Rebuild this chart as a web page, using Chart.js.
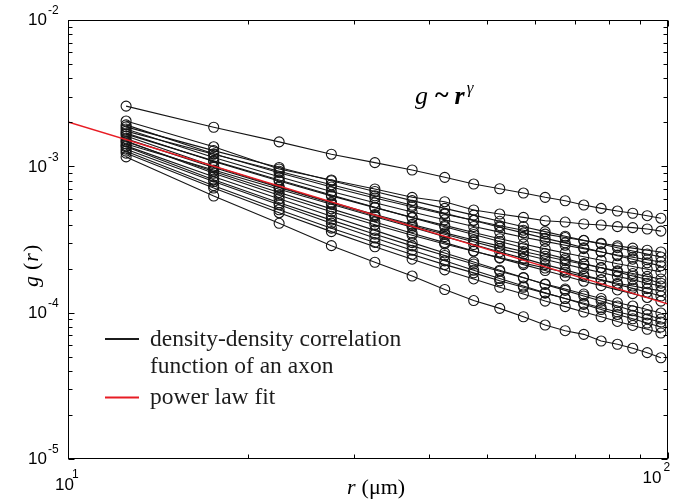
<!DOCTYPE html>
<html>
<head>
<meta charset="utf-8">
<script src="https://cdn.jsdelivr.net/npm/chart.js@4.4.1/dist/chart.umd.min.js"></script>
<style>
  body { margin: 0; background: #fff; }
  #myChart { display: block; }
</style>
</head>
<body>
<canvas id="myChart" width="682" height="502"></canvas>
<script>
// radial distance r (um), same bins for every axon
var r = [12.5, 17.5, 22.5, 27.5, 32.5, 37.5, 42.5, 47.5, 52.5, 57.5, 62.5, 67.5, 72.5, 77.5, 82.5, 87.5, 92.5, 97.5];

// g(r) for each axon, in units of 1e-3
var gA = [2.58, 1.85, 1.47, 1.21, 1.06, .944, .841, .757, .703, .657, .614, .582, .544, .516, .495, .478, .460, .442];
var gB = [2.04, 1.36, .959, .806, .700, .614, .573, .503, .472, .448, .425, .416, .404, .397, .387, .381, .373, .361];
var gC = [1.92, 1.22, .905, .722, .608, .529, .471, .428, .393, .366, .344, .326, .311, .298, .286, .276, .267, .260];
var gD = [1.86, 1.28, .982, .797, .673, .583, .516, .464, .421, .387, .358, .333, .312, .295, .278, .264, .252, .240];
var gE = [1.80, 1.15, .848, .673, .564, .487, .431, .388, .355, .328, .307, .289, .274, .260, .248, .239, .230, .222];
var gF = [1.74, 1.21, .926, .749, .629, .542, .477, .426, .384, .351, .322, .300, .278, .261, .245, .232, .219, .209];
var gG = [1.69, 1.08, .793, .628, .522, .448, .395, .353, .320, .295, .273, .256, .241, .228, .216, .207, .198, .190];
var gH = [1.61, 1.00, .725, .568, .469, .401, .351, .314, .285, .262, .243, .227, .214, .203, .193, .185, .177, .170];
var gI = [1.66, 1.09, .807, .637, .525, .445, .387, .342, .306, .278, .254, .234, .217, .203, .190, .178, .169, .159];
var gJ = [1.54, .982, .716, .562, .462, .393, .343, .305, .274, .251, .231, .214, .200, .188, .177, .168, .159, .152];
var gK = [1.49, .896, .634, .489, .399, .338, .295, .263, .238, .218, .202, .189, .177, .168, .159, .152, .146, .141];
var gL = [1.42, .944, .698, .551, .453, .383, .331, .292, .260, .235, .213, .196, .181, .168, .156, .147, .138, .130];
var gM = [1.47, .923, .663, .512, .417, .349, .301, .264, .236, .213, .194, .178, .164, .153, .143, .135, .127, .120];
var gN = [1.36, .810, .564, .429, .344, .286, .246, .215, .192, .173, .157, .145, .134, .125, .117, .111, .105, .0994];
var gO = [1.38, .850, .600, .456, .365, .301, .256, .222, .195, .174, .156, .142, .130, .120, .111, .103, .0965, .0905];
var gP = [1.27, .738, .505, .378, .302, .250, .213, .187, .165, .149, .136, .125, .116, .108, .101, .0959, .0908, .0863];
var gQ = [1.31, .787, .546, .409, .324, .267, .226, .195, .171, .152, .137, .125, .114, .105, .0972, .0908, .0850, .0798];
var gR = [1.23, .711, .482, .358, .282, .232, .196, .170, .149, .134, .120, .110, .101, .0937, .0871, .0818, .0770, .0726];
var gZ = [1.16, .627, .408, .287, .221, .178, .144, .121, .107, .0938, .0823, .0753, .0711, .0640, .0608, .0571, .0533, .0492];

// power law fit, units of 1e-3
var fitR = [10, 100];
var fitG = [2.01, 0.115];

var UNIT = 1e-3;
var xDecades = [1, 2];          // 10^1 .. 10^2
var yDecades = [-5, -4, -3, -2]; // 10^-5 .. 10^-2

var axons = [gA, gB, gC, gD, gE, gF, gG, gH, gI, gJ, gK, gL, gM, gN, gO, gP, gQ, gR, gZ];

function toPoints(xs, ys) {
  return xs.map(function(x, i) { return { x: x, y: ys[i] * UNIT }; });
}

var datasets = [{
  label: 'power law fit',
  data: toPoints(fitR, fitG),
  borderColor: 'rgb(232,28,36)',
  borderWidth: 1.3,
  pointRadius: 0,
  order: 0
}];
axons.forEach(function(g) {
  datasets.push({
    label: 'axon',
    data: toPoints(r, g),
    borderColor: '#151515',
    borderWidth: 1.1,
    pointRadius: 5,
    pointBorderWidth: 1.1,
    pointBackgroundColor: 'rgba(0,0,0,0)',
    pointBorderColor: '#151515',
    order: 1
  });
});

function powLabel(ctx, exp, x, y, ex, ey) {
  ctx.font = '17px "Liberation Sans", Arial, sans-serif';
  ctx.textAlign = 'left';
  ctx.textBaseline = 'middle';
  ctx.fillText('10', x, y);
  ctx.font = '12px "Liberation Sans", Arial, sans-serif';
  ctx.fillText(String(exp), ex, ey);
}

var SERIF = '"Liberation Serif", "Times New Roman", serif';

var frame = {
  id: 'frame',
  afterDraw: function(chart) {
    var ctx = chart.ctx, a = chart.chartArea;
    var xs = chart.scales.x, ys = chart.scales.y;
    ctx.save();
    ctx.strokeStyle = '#000';
    ctx.fillStyle = '#000';
    ctx.lineWidth = 1;
    var L = Math.round(a.left) + 0.5, R = Math.round(a.right) - 0.5;
    var T = Math.round(a.top) + 0.5, B = Math.round(a.bottom) - 0.5;
    ctx.strokeRect(L, T, R - L, B - T);

    ctx.beginPath();
    // y ticks, inward on left and right
    for (var i = 0; i < yDecades.length; i++) {
      var d = yDecades[i];
      for (var m = 1; m <= 9; m++) {
        if (d === -2 && m > 1) break;
        var py = Math.round(ys.getPixelForValue(m * Math.pow(10, d))) + 0.5;
        var len = m === 1 ? 6 : 4;
        ctx.moveTo(L, py); ctx.lineTo(L + len, py);
        ctx.moveTo(R, py); ctx.lineTo(R - len, py);
      }
    }
    // x ticks, inward on bottom and top
    for (var m2 = 1; m2 <= 10; m2++) {
      var px = Math.round(xs.getPixelForValue(m2 * 10)) + 0.5;
      var len2 = (m2 === 1 || m2 === 10) ? 6 : 4;
      ctx.moveTo(px, B); ctx.lineTo(px, B - len2);
      ctx.moveTo(px, T); ctx.lineTo(px, T + len2);
    }
    ctx.stroke();

    // tick labels
    yDecades.forEach(function(d) {
      var py = ys.getPixelForValue(Math.pow(10, d));
      powLabel(ctx, d, 28, py + 0.5, 48, py - 9);
    });
    var x1 = xs.getPixelForValue(10), x2 = xs.getPixelForValue(100);
    powLabel(ctx, xDecades[0], x1 - 13, 485, x1 + 4, 475);
    powLabel(ctx, xDecades[1], x2 - 25, 478, x2 - 4, 468);

    // axis titles
    ctx.textBaseline = 'alphabetic';
    ctx.textAlign = 'left';
    ctx.font = 'italic 22px ' + SERIF;
    ctx.fillText('r', 347, 494);
    var w = ctx.measureText('r').width + 6;
    ctx.font = '22px ' + SERIF;
    ctx.fillText('(\u03BCm)', 347 + w, 494);

    ctx.save();
    ctx.translate(38, 287);
    ctx.rotate(-Math.PI / 2);
    ctx.font = 'italic 22px ' + SERIF;
    ctx.fillText('g', 0, 0);
    var gx = ctx.measureText('g').width + 6;
    ctx.font = '22px ' + SERIF;
    ctx.fillText('(', gx, 0);
    var px2 = gx + ctx.measureText('(').width;
    ctx.font = 'italic 22px ' + SERIF;
    ctx.fillText('r', px2 + 1, 0);
    var px3 = px2 + 1 + ctx.measureText('r').width;
    ctx.font = '22px ' + SERIF;
    ctx.fillText(')', px3 + 1, 0);
    ctx.restore();

    // annotation g ~ r^gamma
    var ax = 415, ay = 104;
    ctx.font = 'italic 26px ' + SERIF;
    ctx.fillText('g', ax, ay);
    ax += ctx.measureText('g').width + 7;
    ctx.font = 'bold 26px ' + SERIF;
    ctx.fillText('~', ax, ay - 1);
    ax += ctx.measureText('~').width + 6;
    ctx.font = 'bold italic 26px ' + SERIF;
    ctx.fillText('r', ax, ay);
    ax += ctx.measureText('r').width + 2;
    ctx.font = 'italic 17px ' + SERIF;
    ctx.fillText('\u03B3', ax, ay - 11);

    // legend
    ctx.lineWidth = 2;
    ctx.strokeStyle = '#1c1c1c';
    ctx.beginPath(); ctx.moveTo(105, 339); ctx.lineTo(139, 339); ctx.stroke();
    ctx.strokeStyle = 'rgb(232,28,36)';
    ctx.beginPath(); ctx.moveTo(105, 397.5); ctx.lineTo(139, 397.5); ctx.stroke();
    ctx.font = '23.5px ' + SERIF;
    ctx.fillStyle = '#1c1c1c';
    ctx.fillText('density-density correlation', 150, 346);
    ctx.fillText('function of an axon', 150, 373);
    ctx.fillText('power law fit', 150, 404);
    ctx.restore();
  }
};

var ctx = document.getElementById('myChart').getContext('2d');
var myChart = new Chart(ctx, {
  type: 'line',
  data: { datasets: datasets },
  options: {
    responsive: false,
    animation: false,
    layout: { padding: { left: 68, right: 14.5, top: 20, bottom: 43 } },
    plugins: { legend: { display: false }, tooltip: { enabled: false } },
    elements: { line: { tension: 0 } },
    scales: {
      x: { type: 'logarithmic', min: 10, max: 100, display: false },
      y: { type: 'logarithmic', min: 1e-5, max: 1e-2, display: false }
    }
  },
  plugins: [frame]
});
</script>
</body>
</html>
